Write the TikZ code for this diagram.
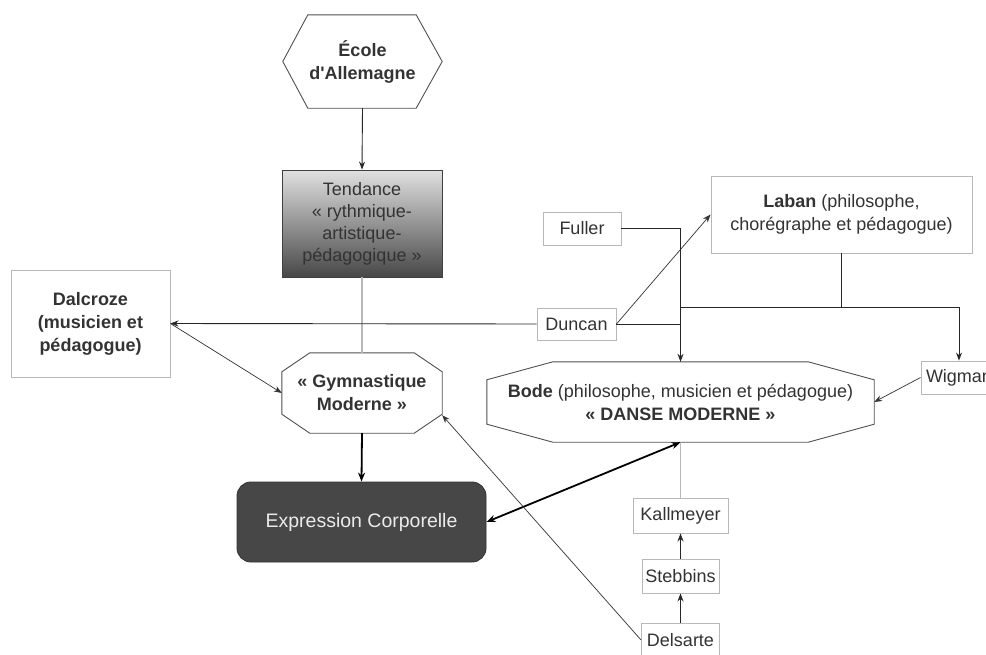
\documentclass[tikz,border=0pt]{standalone}
\usepackage{fontspec}
\setmainfont{Liberation Sans}[Ligatures=TeXOff]
\usetikzlibrary{arrows.meta,calc}
\definecolor{txt}{HTML}{333333}
\definecolor{lbord}{HTML}{B8B8B8}
\definecolor{dbord}{HTML}{505050}
\definecolor{exfill}{HTML}{474747}
\begin{document}
\begin{tikzpicture}[x=1pt,y=-1pt,
  every node/.style={font=\fontsize{18}{23}\selectfont, text=txt, align=center, inner sep=0pt},
  lbox/.style={draw=lbord, line width=0.9pt},
  shp/.style={draw=dbord, line width=0.9pt},
  ln/.style={draw=black!85, line width=0.9pt},
  arr/.style={draw=black!85, line width=0.9pt, -{Stealth[length=8pt,width=6pt]}},
  thinarr/.style={draw=black!80, line width=0.7pt, -{Stealth[length=8pt,width=6pt]}},
  grayln/.style={draw=black!28, line width=1.4pt},
  thickarr/.style={draw=black, line width=1.8pt, -{Stealth[length=9pt,width=7pt]}},
  thickboth/.style={draw=black, line width=1.8pt, {Stealth[length=9pt,width=7pt]}-{Stealth[length=9pt,width=7pt]}}]
\useasboundingbox (0,0) rectangle (986,654);
\clip (0,0) rectangle (986,654);
\fill[white] (0,0) rectangle (986,654);

% nodes
\node[minimum width=159, minimum height=93] (ecole) at (362.5,61.5) {\textbf{École}\\\textbf{d'Allemagne}};
\draw[shp] (ecole.west) -- ($(ecole.north west)+(25,0)$) -- ($(ecole.north east)+(-26,0)$) -- (ecole.east)
  -- ($(ecole.south east)+(-26,0)$) -- ($(ecole.south west)+(25,0)$) -- cycle;

\node[draw=black!75, line width=0.9pt, top color=black!12, bottom color=black!72,
  minimum width=160, minimum height=107, font=\fontsize{18}{22}\selectfont] (tend) at (362,223.5)
  {Tendance\\« rythmique-\\artistique-\\pédagogique »};

\node[minimum width=160, minimum height=80] (gym) at (362,393) {\textbf{« Gymnastique}\\\textbf{Moderne »}};
\draw[shp] ($(gym.north west)+(28,0)$) -- ($(gym.north east)+(-28,0)$) -- ($(gym.north east)+(0,19)$)
  -- ($(gym.south east)+(0,-19)$) -- ($(gym.south east)+(-28,0)$) -- ($(gym.south west)+(28,0)$)
  -- ($(gym.south west)+(0,-19)$) -- ($(gym.north west)+(0,19)$) -- cycle;

\node[fill=exfill, draw=black!80, line width=0.9pt, rounded corners=14pt, minimum width=249, minimum height=80,
  text=black!8, font=\fontsize{19.5}{23}\selectfont] (expr) at (361.5,522) {Expression Corporelle};

\node[lbox, minimum width=159, minimum height=107] (dal) at (90.5,323.5)
  {\textbf{Dalcroze}\\\textbf{(musicien et}\\\textbf{pédagogue)}};
\node[lbox, minimum width=78, minimum height=33] (fuller) at (582,228.5) {Fuller};
\node[lbox, minimum width=261, minimum height=77] (laban) at (841.5,214.5)
  {\textbf{Laban} (philosophe,\\chorégraphe et pédagogue)};
\node[lbox, minimum width=79, minimum height=32] (duncan) at (576.5,324) {Duncan};

\node[minimum width=387, minimum height=80] (bode) at (680.5,402)
  {\textbf{Bode} (philosophe, musicien et pédagogue)\\\textbf{« DANSE MODERNE »}};
\draw[shp] ($(bode.north west)+(66,0)$) -- ($(bode.north east)+(-66,0)$) -- ($(bode.north east)+(0,18)$)
  -- ($(bode.south east)+(0,-18)$) -- ($(bode.south east)+(-66,0)$) -- ($(bode.south west)+(66,0)$)
  -- ($(bode.south west)+(0,-18)$) -- ($(bode.north west)+(0,18)$) -- cycle;

\node[lbox, minimum width=76, minimum height=33] (wigman) at (959,377.5) {Wigman};
\node[lbox, minimum width=95, minimum height=35] (kall) at (680.5,515.5) {Kallmeyer};
\node[lbox, minimum width=77, minimum height=34] (steb) at (680.5,576) {Stebbins};
\node[lbox, minimum width=78, minimum height=34] (dels) at (680.5,640) {Delsarte};

% helper coordinates
\coordinate (h307) at (0,307);
\coordinate (gymcorner) at ($(gym.south east)+(0,-18)$);

% connectors
\draw[arr] (ecole.south) -- (tend.north);
\draw[grayln] (tend.south) -- (gym.north);
\draw[arr, draw=none, -{Stealth[length=8pt,width=6pt,black!85]}] ($(gym.north)+(0,-10)$) -- (gym.north);
\draw[thickarr] (gym.south) -- (expr.north);

\draw[arr] (duncan.west) -- (dal.east);
\draw[thinarr] (dal.east) -- (gym.west);
\draw[thinarr] (duncan.east) -- (laban.west);
\draw[ln] (duncan.east) -- (bode.north |- duncan.east);
\draw[arr] (fuller.east) -| (bode.north);
\draw[ln] (laban.south) -- (laban.south |- h307);
\draw[arr] (bode.north |- h307) -| (wigman.north);
\draw[thinarr] (wigman.west) -- (bode.east);

\draw[grayln] (kall.north) -- (bode.south);
\draw[thickboth] (expr.east) -- (bode.south);
\draw[arr] (steb.north) -- (kall.south);
\draw[arr] (dels.north) -- (steb.south);
\draw[thinarr] (dels.west) -- (gymcorner);
\end{tikzpicture}
\end{document}
